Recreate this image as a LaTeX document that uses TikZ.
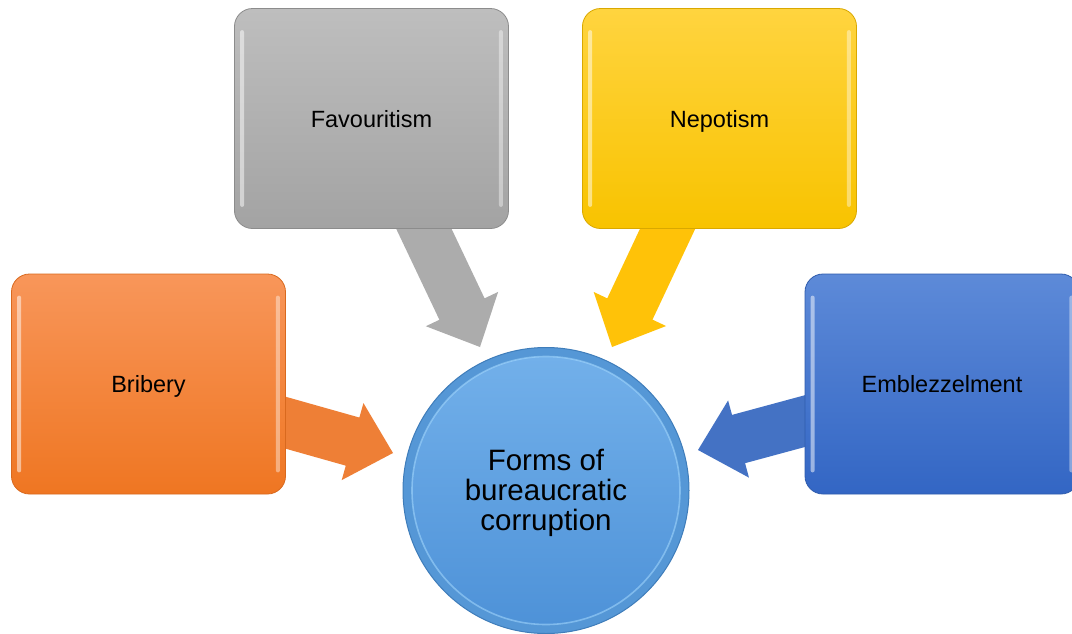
\documentclass[tikz,border=0pt]{standalone}
\usepackage{fontspec}
\setmainfont{Liberation Sans}
\usetikzlibrary{calc,backgrounds}

\definecolor{orTop}{HTML}{F8965A}\definecolor{orBot}{HTML}{EF7622}\definecolor{orRim}{HTML}{D9691E}\definecolor{orArr}{HTML}{EE7F36}
\definecolor{grTop}{HTML}{BEBEBE}\definecolor{grBot}{HTML}{A3A3A3}\definecolor{grRim}{HTML}{8C8C8C}\definecolor{grArr}{HTML}{ACACAC}
\definecolor{ylTop}{HTML}{FFD43F}\definecolor{ylBot}{HTML}{F8C300}\definecolor{ylRim}{HTML}{D9A800}\definecolor{ylArr}{HTML}{FFC208}
\definecolor{blTop}{HTML}{5D8AD8}\definecolor{blBot}{HTML}{3366C4}\definecolor{blRim}{HTML}{2F5CAD}\definecolor{blArr}{HTML}{4472C4}
\definecolor{ciRim}{HTML}{5597D6}\definecolor{ciEdge}{HTML}{3F7DBA}\definecolor{ciTop}{HTML}{72B0EA}\definecolor{ciBot}{HTML}{4E92D8}
\definecolor{ciGlow}{HTML}{A6DAFF}

% block arrow: #1 start, #2 tip, #3 colour, #4 prefix for the head-base coordinate
\newcommand\blockarrow[4]{%
  \coordinate (#4-base) at ($(#2)!42pt!(#1)$);
  \fill[#3] ($(#1)!25pt!90:(#2)$) -- ($(#4-base)!25pt!90:(#2)$)
    -- ($(#4-base)!40pt!90:(#2)$) -- (#2)
    -- ($(#4-base)!40pt!-90:(#2)$) -- ($(#4-base)!25pt!-90:(#2)$)
    -- ($(#1)!25pt!-90:(#2)$) -- cycle;
}
% glossy side strips of a box
\newcommand\bevel[1]{%
  \fill[white, opacity=.5, rounded corners=2pt]
    ([xshift=6pt,yshift=-22pt]#1.north west) rectangle ([xshift=10pt,yshift=22pt]#1.south west);
  \fill[white, opacity=.4, rounded corners=2pt]
    ([xshift=-10pt,yshift=-22pt]#1.north east) rectangle ([xshift=-6pt,yshift=22pt]#1.south east);
}

\begin{document}
\begin{tikzpicture}[x=1pt, y=-1pt,
  box/.style={rectangle, rounded corners=18pt, minimum width=274pt, minimum height=220pt,
    inner sep=0pt, line width=0.8pt, text height=17pt, text depth=0pt,
    font=\fontsize{23.5}{28}\selectfont, text=black},
  orangebox/.style={box, top color=orTop, bottom color=orBot, draw=orRim},
  greybox/.style={box, top color=grTop, bottom color=grBot, draw=grRim},
  yellowbox/.style={box, top color=ylTop, bottom color=ylBot, draw=ylRim},
  bluebox/.style={box, top color=blTop, bottom color=blBot, draw=blRim},
]
\useasboundingbox (0,0) rectangle (1072,633);

% central circle
\fill[ciRim, draw=ciEdge, line width=1pt] (546,490.5) circle[radius=143pt];
\shade[top color=ciTop, bottom color=ciBot] (546,490.5) circle[radius=134pt];
\draw[ciGlow, line width=1.6pt, opacity=.55] (546,490.5) circle[radius=134pt];
\node[align=center, font=\fontsize{29.5}{30}\selectfont, text=black] (core) at (546,493)
  {Forms of\\bureaucratic\\corruption};

% surrounding boxes
\node[orangebox] (bribery) at (148.5,384) {Bribery};
\node[greybox]   (favour)  at (371.5,118.5) {Favouritism};
\node[yellowbox] (nepot)   at (719.5,118.5) {Nepotism};
\node[bluebox]   (embez)   at (942,384) {Emblezzelment};
\bevel{bribery}\bevel{favour}\bevel{nepot}\bevel{embez}

% arrow tips, just outside the circle
\coordinate (tipB) at (393,453);
\coordinate (tipF) at (480,347);
\coordinate (tipN) at (612,347);
\coordinate (tipE) at (698,450);

\begin{scope}[on background layer]
  \fill[white] (0,0) rectangle (1072,633);
  \blockarrow{bribery}{tipB}{orArr}{aB}
  \blockarrow{favour}{tipF}{grArr}{aF}
  \blockarrow{nepot}{tipN}{ylArr}{aN}
  \blockarrow{embez}{tipE}{blArr}{aE}
\end{scope}
\end{tikzpicture}
\end{document}
